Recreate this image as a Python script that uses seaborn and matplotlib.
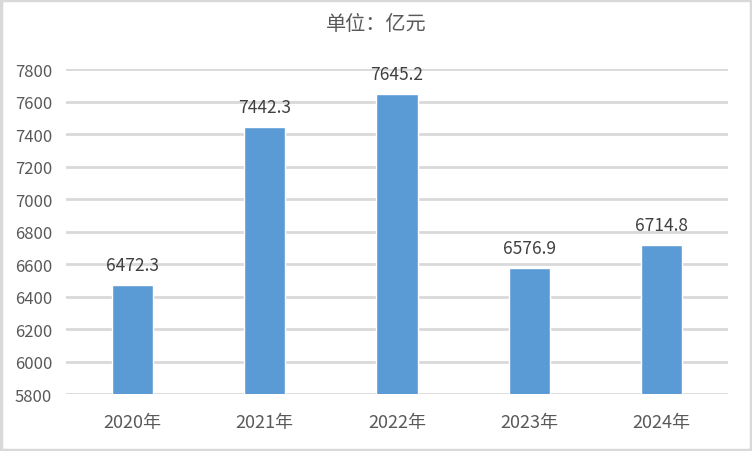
import matplotlib
matplotlib.use("Agg")
import matplotlib.pyplot as plt
import seaborn as sns
import pandas as pd
from matplotlib.patches import Rectangle

# chart data
years = ["2020年", "2021年", "2022年", "2023年", "2024年"]
values = [6472.3, 7442.3, 7645.2, 6576.9, 6714.8]
y_ticks = [5800, 6000, 6200, 6400, 6600, 6800, 7000, 7200, 7400, 7600, 7800]

df = pd.DataFrame({"year": years, "value": values})

sns.set_theme(style="white")
plt.rcParams['font.family'] = ['Noto Sans CJK SC', 'DejaVu Sans']

fig = plt.figure(figsize=(7.52, 4.52), dpi=100)
ax = fig.add_axes([0.0878, 0.126, 0.8802, 0.719])

sns.barplot(data=df, x="year", y="value", color="#5b9bd5", width=0.31,
            saturation=1, ax=ax, zorder=3)

ax.set_ylim(5800, 7800)
ax.set_xlim(-0.5, 4.5)
ax.set_yticks(y_ticks)
ax.yaxis.grid(True, color="#d9d9d9", linewidth=2, zorder=0)
ax.set_axisbelow(True)
for s in ax.spines.values():
    s.set_visible(False)
ax.set_xlabel("")
ax.set_ylabel("")
ax.tick_params(axis="both", length=0, labelcolor="#595959")
ax.tick_params(axis="y", labelsize=12, pad=10)
ax.tick_params(axis="x", labelsize=13, pad=14)

for i, v in enumerate(values):
    ax.annotate(f"{v:.1f}", (i, v), xytext=(0, 8), textcoords="offset points",
                ha="center", va="bottom", fontsize=12.5, color="#404040")

fig.text(0.5, 0.945, "单位：亿元", ha="center", va="center", fontsize=14.5, color="#595959")

fig.patches.append(Rectangle((0.0015, 0.0025), 0.997, 0.995, transform=fig.transFigure,
                             fill=False, edgecolor="#d9d9d9", linewidth=2.5))

fig.savefig("out.png", dpi=100, facecolor="white")
